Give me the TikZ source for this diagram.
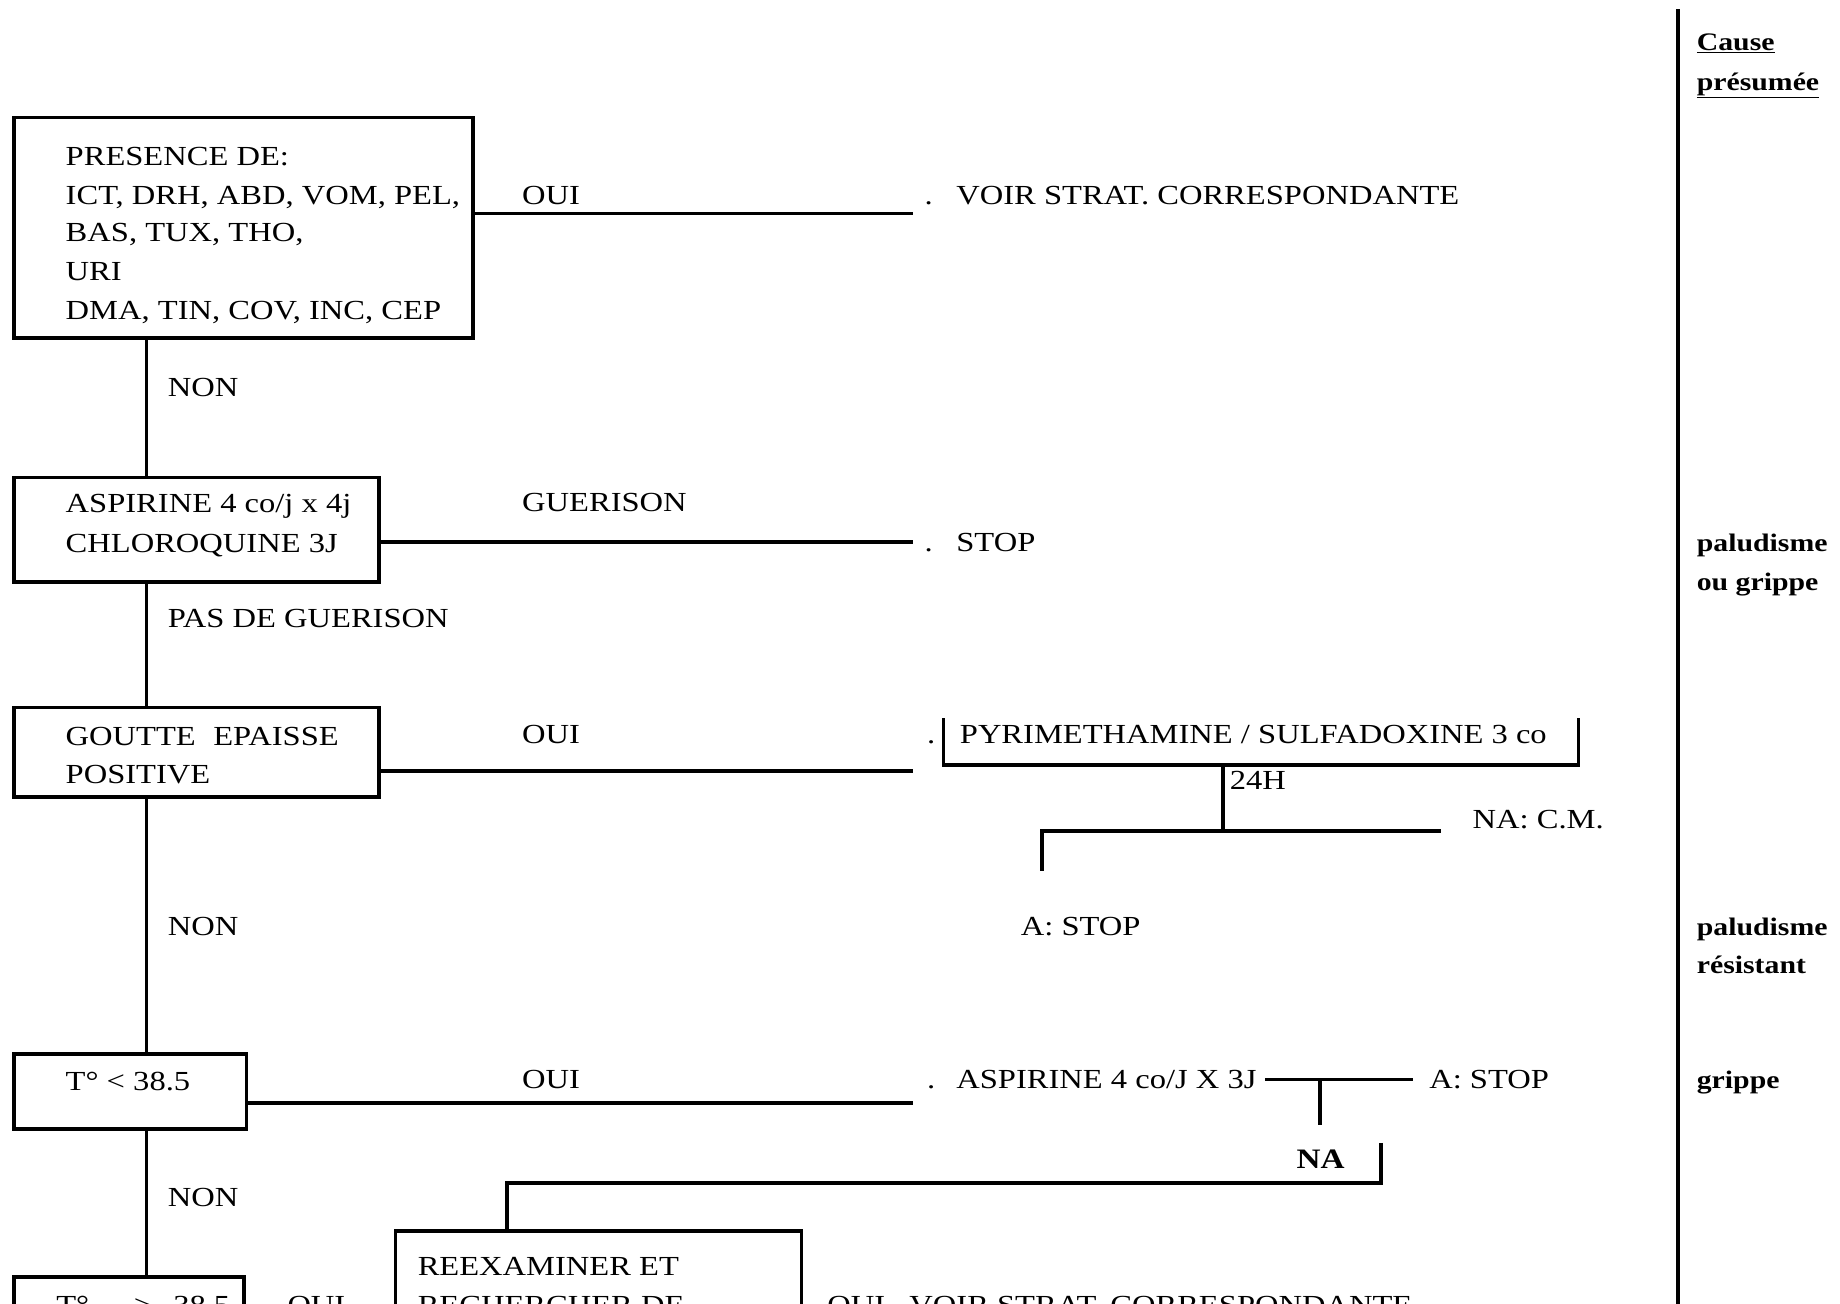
\documentclass[tikz,border=0pt]{standalone}
\usepackage{fontspec}
\setmainfont{Liberation Serif}[FakeStretch=1.18]
\begin{document}
\begin{tikzpicture}[x=1pt,y=-1pt,
  every node/.style={inner sep=0pt, outer sep=0pt, font=\fontsize{23.5}{33}\selectfont},
  txt/.style={anchor=base west},
  cause/.style={anchor=base west, font=\fontsize{21.5}{33}\selectfont\bfseries},
  box/.style={draw, line width=3pt, anchor=north west},
  ln/.style={line width=3pt}]
\useasboundingbox (0,0) rectangle (1568,1111);
\clip (0,0) rectangle (1568,1111);

% boxes
\node[box, minimum width=391pt, minimum height=188pt] (b1) at (12,100) {};
\node[box, minimum width=311pt, minimum height=89pt] (b2) at (12,407) {};
\node[box, minimum width=311pt, minimum height=76pt] (b3) at (12,603) {};
\node[box, minimum width=198pt, minimum height=64pt] (b4) at (12,898) {};
\node[box, minimum width=196pt, minimum height=100pt] (b5) at (12,1088) {};
\node[box, minimum width=346pt, minimum height=140pt] (b6) at (337,1049) {};

% box texts
\node[txt] (b1a) at (56,141) {PRESENCE DE:};
\node[txt] (b1b) at (56,174) {ICT, DRH, ABD, VOM, PEL,};
\node[txt] (b1c) at (56,206) {BAS, TUX, THO,};
\node[txt] (b1d) at (56,239) {URI};
\node[txt] (b1e) at (56,272) {DMA, TIN, COV, INC, CEP};
\node[txt] (b2a) at (56,437) {ASPIRINE 4 co/j x 4j};
\node[txt] (b2b) at (56,471) {CHLOROQUINE 3J};
\node[txt] (b3a) at (56,635) {GOUTTE\hspace{8pt} EPAISSE};
\node[txt] (b3b) at (56,668) {POSITIVE};
\node[txt] (b4a) at (56,929) {T° < 38.5};
\node[txt] (b5a) at (48,1120) {T°\hspace{38pt}>\hspace{18pt}38.5};
\node[txt] (b6a) at (356,1087) {REEXAMINER ET};
\node[txt] (b6b) at (356,1120) {RECHERCHER DE};

% main vertical spine
\coordinate (vx) at (125,0);
\draw[ln] (vx |- b1.south) -- (vx |- b2.north);
\draw[ln] (vx |- b2.south) -- (vx |- b3.north);
\draw[ln] (vx |- b3.south) -- (vx |- b4.north);
\draw[ln] (vx |- b4.south) -- (vx |- b5.north);
\node[txt] (non1) at (143,338) {NON};
\node[txt] (pdg) at (143,535) {PAS DE GUERISON};
\node[txt] (non2) at (143,797) {NON};
\node[txt] (non3) at (143,1028) {NON};

% row 1
\coordinate (e1) at (778,182);
\draw[ln] (b1.east |- e1) -- (e1);
\node[txt] (oui1) at (445,174) {OUI};
\node[txt] (d1) at (788,174) {.};
\node[txt] (r1) at (815,174) {VOIR STRAT. CORRESPONDANTE};

% row 2
\coordinate (e2) at (778,462);
\draw[ln] (b2.east |- e2) -- (e2);
\node[txt] (gue) at (445,436) {GUERISON};
\node[txt] (d2) at (788,470) {.};
\node[txt] (r2) at (815,470) {STOP};

% row 3
\coordinate (e3) at (778,657);
\draw[ln] (b3.east |- e3) -- (e3);
\node[txt] (oui3) at (445,634) {OUI};
\node[txt] (d3) at (790,634) {.};
\node[txt] (pyr) at (818,634) {PYRIMETHAMINE / SULFADOXINE 3 co};
\coordinate (ptl) at (804,612);
\coordinate (pbl) at (804,652);
\coordinate (pbr) at (1345,652);
\coordinate (ptr) at (1345,612);
\draw[ln] (ptl) -- (pbl) -- (pbr) -- (ptr);
\coordinate (p24) at (1042,652);
\coordinate (j24) at (1042,708);
\draw[ln] (p24) -- (j24);
\node[txt] (h24) at (1048,673) {24H};
\coordinate (jl) at (888,708);
\coordinate (jr) at (1228,708);
\coordinate (jd) at (888,742);
\draw[ln] (jd) -- (jl) -- (jr);
\node[txt] (nacm) at (1255,706) {NA: C.M.};
\node[txt] (astop1) at (870,797) {A: STOP};

% row 4
\coordinate (e4) at (778,940);
\draw[ln] (b4.east |- e4) -- (e4);
\node[txt] (oui4) at (445,928) {OUI};
\node[txt] (d4) at (790,928) {.};
\node[txt] (asp) at (815,928) {ASPIRINE 4 co/J X 3J};
\coordinate (al) at (1078,920);
\coordinate (ar) at (1204,920);
\draw[ln] (al) -- (ar);
\node[txt] (astop2) at (1218,928) {A: STOP};
\coordinate (at) at (1125,920);
\coordinate (ad) at (1125,959);
\draw[ln] (at) -- (ad);
\node[txt, font=\fontsize{24}{33}\selectfont\bfseries] (na) at (1105,996) {NA};
\coordinate (nt) at (1177,974);
\coordinate (nb) at (1177,1008);
\draw[ln] (nt) -- (nb) -- (nb -| 432,0) -- (432,0 |- b6.north);

% row 5 (cut off by the page edge, as in the reference)
\node[txt] (oui5) at (245,1120) {OUI};
\node[txt] (oui6) at (705,1120) {OUI};
\node[txt] (r6) at (775,1120) {VOIR STRAT. CORRESPONDANTE};

% right column
\coordinate (rt) at (1430,8);
\coordinate (rb) at (1430,1111);
\draw[line width=3.5pt] (rt) -- (rb);
\node[cause] (c1) at (1446,43) {\underline{Cause}};
\node[cause] (c2) at (1446,77) {\underline{présumée}};
\node[cause] (k1) at (1446,470) {paludisme};
\node[cause] (k2) at (1446,503) {ou grippe};
\node[cause] (k3) at (1446,797) {paludisme};
\node[cause] (k4) at (1446,830) {résistant};
\node[cause] (k5) at (1446,928) {grippe};
\end{tikzpicture}
\end{document}
